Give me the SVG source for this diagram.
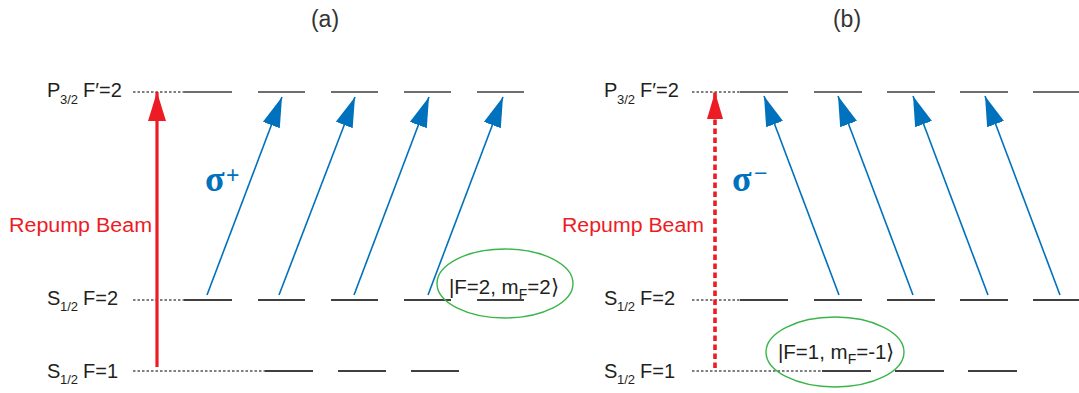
<svg xmlns="http://www.w3.org/2000/svg" width="1079" height="393" viewBox="0 0 1079 393">
<style>
text{font-family:"Liberation Sans",Arial,sans-serif;fill:#231f20}
.lbl{font-size:20px}
.sub{font-size:13px}
.title{font-size:23px;fill:#333}
.rep{font-size:20px;fill:#ed1c24}
.sig{font-family:"Liberation Serif","Times New Roman",serif;font-size:36px;font-weight:bold;fill:#0071bc}
.sigs{font-size:23px;fill:#0071bc}
.ket{font-size:20.5px}
.kets{font-size:14px}
.lvP{stroke:#6d6e71;stroke-width:1.8}
.lvS{stroke:#000;stroke-width:1.4}
.dot{stroke:#000;stroke-width:1.1;stroke-dasharray:2.5 2}
.blue{stroke:#0071bc;stroke-width:1.6;fill:none;marker-end:url(#bh)}
.red{stroke:#ed1c24;stroke-width:3.2;fill:none;marker-end:url(#rh)}
.redd{stroke:#ed1c24;stroke-width:3.6;fill:none;stroke-dasharray:5.5 3.5;marker-end:url(#rh2)}
.ell{fill:none;stroke:#39b54a;stroke-width:1.4}
</style>
<defs>
<marker id="bh" markerUnits="userSpaceOnUse" markerWidth="34" markerHeight="20" refX="30" refY="9" orient="auto">
<path d="M0,0 L30,9 L0,18 z" fill="#0071bc"/>
</marker>
<marker id="rh" markerUnits="userSpaceOnUse" markerWidth="31" markerHeight="20" refX="29" refY="9" orient="auto">
<path d="M0,0 L29,9 L0,18 z" fill="#ed1c24"/>
</marker>
<marker id="rh2" markerUnits="userSpaceOnUse" markerWidth="30" markerHeight="18" refX="27" refY="8" orient="auto">
<path d="M0,0 L27,8 L0,16 z" fill="#ed1c24"/>
</marker>
</defs>
<text class="title" x="325" y="27" text-anchor="middle">(a)</text>
<text class="title" x="847" y="27" text-anchor="middle">(b)</text>

<g id="panel-a-levels">
<g id="a-P32">
<text class="lbl" x="47" y="97">P</text><text class="sub" x="60" y="104">3/2</text><text class="lbl" x="83" y="97">F′=2</text>
<line class="dot" x1="133" y1="92" x2="184" y2="92"/>
<line class="lvP" x1="184" y1="92" x2="232" y2="92"/>
<line class="lvP" x1="258" y1="92" x2="305" y2="92"/>
<line class="lvP" x1="331" y1="92" x2="378" y2="92"/>
<line class="lvP" x1="404" y1="92" x2="451" y2="92"/>
<line class="lvP" x1="477" y1="92" x2="524" y2="92"/>
</g>
<g id="a-S12F2">
<text class="lbl" x="47" y="305">S</text><text class="sub" x="60" y="311">1/2</text><text class="lbl" x="83" y="305">F=2</text>
<line class="dot" x1="133" y1="300" x2="184" y2="300"/>
<line class="lvS" x1="184" y1="300" x2="232" y2="300"/>
<line class="lvS" x1="258" y1="300" x2="305" y2="300"/>
<line class="lvS" x1="331" y1="300" x2="378" y2="300"/>
<line class="lvS" x1="404" y1="300" x2="451" y2="300"/>
<line class="lvS" x1="477" y1="300" x2="524" y2="300"/>
</g>
<g id="a-S12F1">
<text class="lbl" x="47" y="378">S</text><text class="sub" x="60" y="384">1/2</text><text class="lbl" x="83" y="378">F=1</text>
<line class="dot" x1="133" y1="371" x2="265" y2="371"/>
<line class="lvS" x1="265" y1="371" x2="313" y2="371"/>
<line class="lvS" x1="338" y1="371" x2="386" y2="371"/>
<line class="lvS" x1="411" y1="371" x2="459" y2="371"/>
</g>
<g id="a-state">
<ellipse class="ell" cx="505" cy="283.5" rx="68" ry="34.5"/>
<text class="ket" x="449" y="294">|F=2, m<tspan class="kets" dy="5">F</tspan><tspan dy="-5">=2⟩</tspan></text>
</g>
<g id="a-labels">
<text class="rep" x="9" y="232" textLength="143" lengthAdjust="spacingAndGlyphs">Repump Beam</text>
<text class="sig" x="205" y="191">σ</text><text class="sigs" x="226" y="183">+</text>
</g>
</g>

<g id="panel-b-levels">
<g id="b-P32">
<text class="lbl" x="604" y="97">P</text><text class="sub" x="617" y="104">3/2</text><text class="lbl" x="640" y="97">F′=2</text>
<line class="dot" x1="692" y1="92" x2="740" y2="92"/>
<line class="lvP" x1="740" y1="92" x2="788" y2="92"/>
<line class="lvP" x1="814" y1="92" x2="862" y2="92"/>
<line class="lvP" x1="887" y1="92" x2="935" y2="92"/>
<line class="lvP" x1="960" y1="92" x2="1008" y2="92"/>
<line class="lvP" x1="1033" y1="92" x2="1080" y2="92"/>
</g>
<g id="b-S12F2">
<text class="lbl" x="604" y="305">S</text><text class="sub" x="617" y="311">1/2</text><text class="lbl" x="640" y="305">F=2</text>
<line class="dot" x1="692" y1="300" x2="740" y2="300"/>
<line class="lvS" x1="740" y1="300" x2="788" y2="300"/>
<line class="lvS" x1="814" y1="300" x2="862" y2="300"/>
<line class="lvS" x1="887" y1="300" x2="935" y2="300"/>
<line class="lvS" x1="960" y1="300" x2="1008" y2="300"/>
<line class="lvS" x1="1033" y1="300" x2="1080" y2="300"/>
</g>
<g id="b-S12F1">
<text class="lbl" x="604" y="378">S</text><text class="sub" x="617" y="384">1/2</text><text class="lbl" x="640" y="378">F=1</text>
<line class="dot" x1="692" y1="371" x2="822" y2="371"/>
<line class="lvS" x1="822" y1="371" x2="871" y2="371"/>
<line class="lvS" x1="895" y1="371" x2="944" y2="371"/>
<line class="lvS" x1="968" y1="371" x2="1017" y2="371"/>
</g>
<g id="b-state">
<ellipse class="ell" cx="835" cy="352" rx="69" ry="35"/>
<text class="ket" x="778" y="359">|F=1, m<tspan class="kets" dy="5">F</tspan><tspan dy="-5">=-1⟩</tspan></text>
</g>
<g id="b-labels">
<text class="rep" x="562" y="232" textLength="142" lengthAdjust="spacingAndGlyphs">Repump Beam</text>
<text class="sig" x="732" y="191">σ</text><text class="sigs" x="754" y="181">−</text>
</g>
</g>

<g id="connectors">
<line class="red" x1="157" y1="367" x2="157" y2="92"/>
<line class="blue" x1="207" y1="295" x2="282" y2="97"/>
<line class="blue" x1="279" y1="295" x2="355" y2="97"/>
<line class="blue" x1="354" y1="295" x2="429" y2="97"/>
<line class="blue" x1="428" y1="295" x2="503" y2="97"/>
<line class="redd" x1="715" y1="368" x2="715" y2="92"/>
<line class="blue" x1="839" y1="295" x2="764" y2="96"/>
<line class="blue" x1="913" y1="295" x2="838" y2="96"/>
<line class="blue" x1="988" y1="295" x2="913" y2="96"/>
<line class="blue" x1="1060" y1="295" x2="985" y2="96"/>
</g>
</svg>
